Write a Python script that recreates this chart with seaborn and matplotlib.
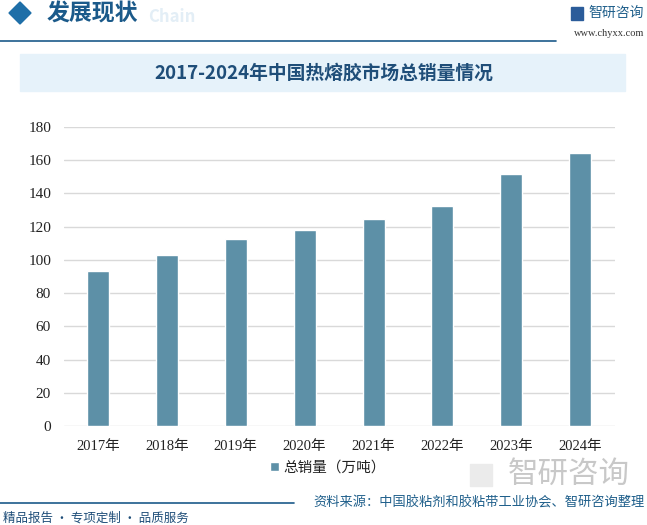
import matplotlib
matplotlib.use("Agg")
import matplotlib.pyplot as plt
import seaborn as sns
import pandas as pd
from matplotlib.patches import Rectangle, Polygon

years = ["2017年", "2018年", "2019年", "2020年", "2021年", "2022年", "2023年", "2024年"]
sales = [93.3, 103.0, 112.6, 118.0, 124.7, 132.5, 151.8, 164.4]
yticks = [0, 20, 40, 60, 80, 100, 120, 140, 160, 180]
series_name = "总销量（万吨）"
title = "2017-2024年中国热熔胶市场总销量情况"
source = "资料来源：中国胶粘剂和胶粘带工业协会、智研咨询整理"
slogan = "精品报告 · 专项定制 · 品质服务"

sns.set_theme(style="white")
plt.rcParams['font.family'] = ['Noto Sans CJK SC', 'DejaVu Sans']

df = pd.DataFrame({"year": years, "sales": sales})
bar_color = "#5D90A7"
dark_blue = "#1B5A8A"

fig = plt.figure(figsize=(6.47, 5.25), dpi=100)
W, H = 647, 525

def fx(x): return x / W
def fy(y): return 1 - y / H

ax = fig.add_axes([fx(63.6), fy(426), fx(614.6) - fx(63.6), fy(127) - fy(426)])
sns.barplot(data=df, x="year", y="sales", color=bar_color, width=0.32,
            saturation=1, ax=ax, label=series_name, zorder=3)
ax.set_ylim(0, 180)
ax.set_yticks(yticks)
ax.set_xlim(-0.5, len(years) - 0.5)
ax.grid(axis="y", color="#D9D9D9", linewidth=1, zorder=0)
ax.grid(axis="x", visible=False)
for s in ax.spines.values():
    s.set_visible(False)
ax.set_xlabel("")
ax.set_ylabel("")
ax.tick_params(axis="both", length=0)
for lab in ax.get_yticklabels():
    lab.set_fontfamily(['Liberation Serif', 'DejaVu Serif'])
    lab.set_fontsize(11)
    lab.set_color("#222222")
for lab in ax.get_xticklabels():
    lab.set_fontfamily(['Liberation Serif', 'Noto Sans CJK SC'])
    lab.set_fontsize(10.5)
    lab.set_color("#222222")
ax.tick_params(axis="y", pad=9)
ax.tick_params(axis="x", pad=10)

leg = ax.legend(loc="center", bbox_to_anchor=(0.48, (426 - 468) / 299), frameon=False,
                fontsize=10.5, handlelength=0.6, handleheight=0.6, handletextpad=0.3)
for t in leg.get_texts():
    t.set_color("#222222")

# header
fig.patches.append(Polygon([[fx(9), fy(13)], [fx(20), fy(2)], [fx(31), fy(13)], [fx(20), fy(24)]],
                           closed=True, color="#1F6FA8", transform=fig.transFigure))
fig.text(fx(47), fy(14), "发展现状", fontsize=16.5, color=dark_blue, fontweight="bold", va="center")
fig.text(fx(148), fy(17), "Chain", fontsize=12, color="#E3EEF6", fontweight="bold", va="center")
fig.lines.append(plt.Line2D([0, fx(556)], [fy(41), fy(41)], color=dark_blue, lw=1.2,
                            transform=fig.transFigure))
fig.text(fx(644), fy(13), "智研咨询", fontsize=10, color="#1F5F8B", va="center", ha="right")
fig.patches.append(Rectangle((fx(571), fy(20)), fx(12), fy(7) - fy(20), color="#2B5C9A",
                             transform=fig.transFigure))
fig.text(fx(644), fy(33), "www.chyxx.com", fontsize=7.5, color="#333333", va="center", ha="right",
         fontfamily=['Liberation Serif'])

# title banner
fig.patches.append(Rectangle((fx(20), fy(91)), fx(625) - fx(20), fy(54) - fy(91),
                             color="#E6F2FA", transform=fig.transFigure, zorder=0))
fig.text(0.5, fy(73), title, fontsize=13.5, color="#1F4E79", fontweight="bold",
         ha="center", va="center")

# footer watermark logo
fig.patches.append(Rectangle((fx(470), fy(486)), fx(22), fy(464) - fy(486), color="#EBEBEB",
                             transform=fig.transFigure, zorder=0))
fig.text(fx(630), fy(474), "智研咨询", fontsize=22, color="#C8C8C8", ha="right", va="center")
fig.lines.append(plt.Line2D([0, fx(294)], [fy(503), fy(503)], color=dark_blue, lw=1.2,
                            transform=fig.transFigure))
fig.text(fx(645), fy(503), source, fontsize=9.5, color="#1F5F8B", ha="right", va="center")
fig.text(fx(3), fy(518), slogan, fontsize=9, color="#1F4E79", ha="left", va="center")

fig.savefig("out.png", dpi=100)
